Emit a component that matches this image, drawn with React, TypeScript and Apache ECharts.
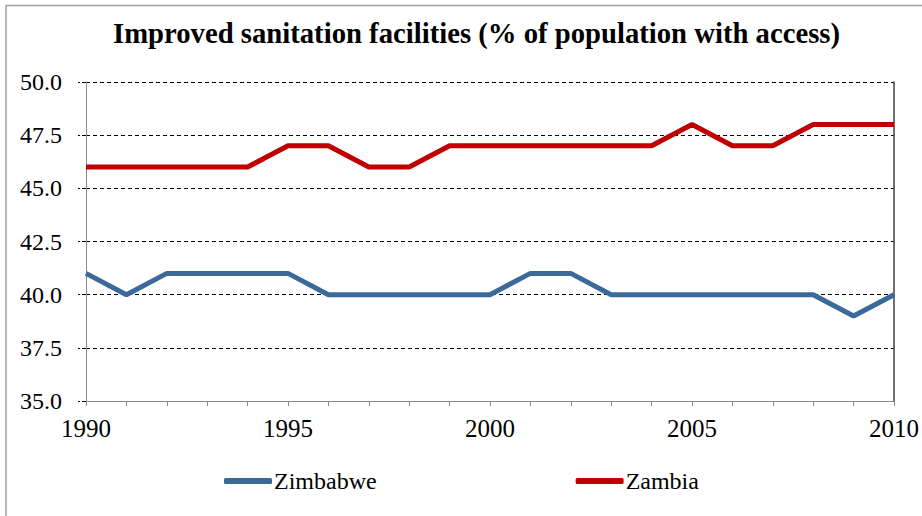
import React, { useEffect, useRef } from "react";
import * as echarts from "echarts";

const years = [
  "1990", "1991", "1992", "1993", "1994", "1995", "1996", "1997", "1998", "1999", "2000",
  "2001", "2002", "2003", "2004", "2005", "2006", "2007", "2008", "2009", "2010",
];
const zimbabwe = [41, 40, 41, 41, 41, 41, 40, 40, 40, 40, 40, 41, 41, 40, 40, 40, 40, 40, 40, 39, 40];
const zambia = [46, 46, 46, 46, 46, 47, 47, 46, 46, 47, 47, 47, 47, 47, 47, 48, 47, 47, 48, 48, 48];

const FONT = "'Liberation Serif', 'Times New Roman', serif";

export default function App() {
  const ref = useRef<HTMLDivElement>(null);

  useEffect(() => {
    document.body.style.margin = "0";
    if (!ref.current) return;
    const chart = echarts.init(ref.current, null, { renderer: "svg" });
    chart.setOption({
      animation: false,
      backgroundColor: "#ffffff",
      textStyle: { fontFamily: FONT },
      graphic: [
        {
          type: "polyline",
          shape: { points: [[6, 520], [6, 5.5], [930, 5.5]] },
          style: { stroke: "#a0a0a0", lineWidth: 1.5, fill: "none" },
          silent: true,
        },
      ],
      title: {
        text: "Improved sanitation facilities (% of population with access)",
        left: 108,
        top: 13,
        textStyle: { fontFamily: FONT, fontSize: 28.7, fontWeight: "bold", color: "#000" },
      },
      legend: {
        top: 464,
        left: 219,
        itemGap: 199,
        itemWidth: 48,
        itemHeight: 6,
        icon: "roundRect",
        textStyle: { fontFamily: FONT, fontSize: 24, color: "#000", padding: [0, 0, 0, -3] },
        data: ["Zimbabwe", "Zambia"],
      },
      grid: { left: 86, right: 28, top: 82, bottom: 115, containLabel: false },
      xAxis: {
        type: "category",
        data: years,
        boundaryGap: false,
        axisLine: { lineStyle: { color: "#8c8c8c", width: 1 } },
        axisTick: { show: true, interval: 0, length: 5, lineStyle: { color: "#8c8c8c" } },
        axisLabel: {
          interval: 4,
          margin: 15,
          fontFamily: FONT,
          fontSize: 25,
          color: "#000",
          showMaxLabel: true,
        },
        splitLine: { show: false },
      },
      yAxis: [
        {
          type: "value",
          min: 35,
          max: 50,
          interval: 2.5,
          axisLine: { show: true, lineStyle: { color: "#8c8c8c", width: 1 } },
          axisTick: { show: true, length: 8, lineStyle: { color: "#000", type: "dashed" } },
          axisLabel: {
            margin: 24,
            fontFamily: FONT,
            fontSize: 24,
            color: "#000",
            formatter: (v: number) => v.toFixed(1),
          },
          splitLine: { show: true, lineStyle: { color: "#000", type: [4, 3], width: 1 } },
        },
        {
          type: "value",
          min: 35,
          max: 50,
          interval: 2.5,
          position: "right",
          axisLine: { show: true, lineStyle: { color: "#404040", width: 1.5 } },
          axisTick: { show: false },
          axisLabel: { show: false },
          splitLine: { show: false },
        },
      ],
      series: [
        {
          name: "Zimbabwe",
          type: "line",
          data: zimbabwe,
          showSymbol: false,
          symbol: "none",
          lineStyle: { color: "#3b6a9a", width: 5 },
          itemStyle: { color: "#3b6a9a" },
        },
        {
          name: "Zambia",
          type: "line",
          data: zambia,
          showSymbol: false,
          symbol: "none",
          lineStyle: { color: "#c00000", width: 5 },
          itemStyle: { color: "#c00000" },
        },
      ],
    });
    return () => chart.dispose();
  }, []);

  return <div ref={ref} style={{ width: 922, height: 516 }} />;
}
